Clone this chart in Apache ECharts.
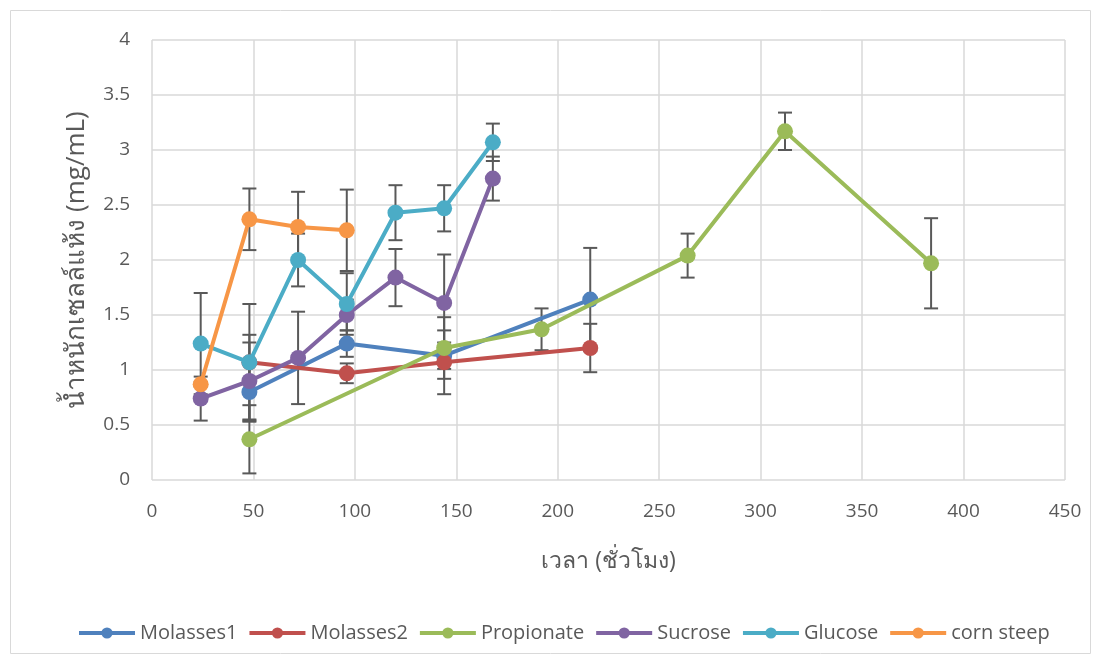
<!DOCTYPE html>
<html>
<head>
<meta charset="utf-8">
<script src="https://cdn.jsdelivr.net/npm/echarts@6/dist/echarts.min.js"></script>
<style>
html,body{margin:0;padding:0;background:#fff;}
#c{width:1101px;height:664px;}
</style>
</head>
<body>
<div id="c"></div>
<script>
var seriesNames = ['Molasses1', 'Molasses2', 'Propionate', 'Sucrose', 'Glucose', 'corn steep'];
var colors = ['#4F81BD', '#C0504D', '#9BBB59', '#8064A2', '#4BACC6', '#F79646'];

var molasses1Time = [48, 96, 144, 216];
var molasses1Value = [0.80, 1.24, 1.13, 1.64];
var molasses1Err = [0.27, 0.12, 0.12, 0.47];

var molasses2Time = [48, 96, 144, 216];
var molasses2Value = [1.07, 0.97, 1.07, 1.20];
var molasses2Err = [0.25, 0.09, 0.29, 0.22];

var propionateTime = [48, 144, 192, 264, 312, 384];
var propionateValue = [0.37, 1.20, 1.37, 2.04, 3.17, 1.97];
var propionateErr = [0.31, 0.28, 0.19, 0.20, 0.17, 0.41];

var sucroseTime = [24, 48, 72, 96, 120, 144, 168];
var sucroseValue = [0.74, 0.90, 1.11, 1.50, 1.84, 1.61, 2.74];
var sucroseErr = [0.20, 0.35, 0.42, 0.14, 0.26, 0.44, 0.20];

var glucoseTime = [24, 48, 72, 96, 120, 144, 168];
var glucoseValue = [1.24, 1.07, 2.00, 1.60, 2.43, 2.47, 3.07];
var glucoseErr = [0.46, 0.53, 0.24, 0.28, 0.25, 0.21, 0.17];

var cornTime = [24, 48, 72, 96];
var cornValue = [0.87, 2.37, 2.30, 2.27];
var cornErr = [0.02, 0.28, 0.32, 0.37];

var xTicks = [0, 50, 100, 150, 200, 250, 300, 350, 400, 450];
var yTicks = [0, 0.5, 1, 1.5, 2, 2.5, 3, 3.5, 4];

var allTimes = [molasses1Time, molasses2Time, propionateTime, sucroseTime, glucoseTime, cornTime];
var allValues = [molasses1Value, molasses2Value, propionateValue, sucroseValue, glucoseValue, cornValue];
var allErrs = [molasses1Err, molasses2Err, propionateErr, sucroseErr, glucoseErr, cornErr];

var FONT = '"Liberation Sans Narrow", "Open Sans", "Noto Sans", sans-serif';
var TXT = '#595959';

var series = [];
for (var i = 0; i < seriesNames.length; i++) {
  var d = allTimes[i].map(function (t, k) { return [t, allValues[i][k], allErrs[i][k]]; });
  series.push({
    type: 'custom',
    name: seriesNames[i] + '_err',
    z: 1,
    silent: true,
    encode: { x: 0, y: 1 },
    data: d,
    renderItem: function (params, api) {
      var x = api.value(0), v = api.value(1), e = api.value(2);
      var hi = api.coord([x, v + e]);
      var lo = api.coord([x, v - e]);
      var cw = 7;
      var st = { stroke: '#595959', lineWidth: 2 };
      return {
        type: 'group',
        children: [
          { type: 'line', shape: { x1: hi[0], y1: hi[1], x2: lo[0], y2: lo[1] }, style: st },
          { type: 'line', shape: { x1: hi[0] - cw, y1: hi[1], x2: hi[0] + cw, y2: hi[1] }, style: st },
          { type: 'line', shape: { x1: lo[0] - cw, y1: lo[1], x2: lo[0] + cw, y2: lo[1] }, style: st }
        ]
      };
    }
  });
}
for (var j = 0; j < seriesNames.length; j++) {
  series.push({
    type: 'line',
    name: seriesNames[j],
    z: 2 + j,
    data: allTimes[j].map(function (t, k) { return [t, allValues[j][k]]; }),
    symbol: 'circle',
    symbolSize: 16,
    showSymbol: true,
    lineStyle: { width: 4, color: colors[j] },
    itemStyle: { color: colors[j] },
    emphasis: { disabled: true },
    animation: false
  });
}

var chart = echarts.init(document.getElementById('c'), null, { renderer: 'canvas' });
chart.setOption({
  animation: false,
  color: colors,
  graphic: [{
    type: 'rect',
    shape: { x: 10.5, y: 10.5, width: 1080, height: 643 },
    style: { fill: 'none', stroke: '#D9D9D9', lineWidth: 1 },
    silent: true
  }],
  grid: { left: 152, right: 36, top: 40, bottom: 184 },
  xAxis: {
    type: 'value',
    min: 0, max: 450, interval: 50,
    name: 'เวลา (ชั่วโมง)',
    nameLocation: 'middle',
    nameGap: 70,
    nameTextStyle: { color: TXT, fontSize: 23, fontFamily: FONT },
    axisLine: { show: false },
    axisTick: { show: false },
    axisLabel: { color: TXT, fontSize: 19, fontFamily: FONT, margin: 22 },
    splitLine: { show: true, lineStyle: { color: '#D9D9D9', width: 1.5 } }
  },
  yAxis: {
    type: 'value',
    min: 0, max: 4, interval: 0.5,
    name: 'น้ำหนักเซลล์แห้ง (mg/mL)',
    nameLocation: 'middle',
    nameGap: 62,
    nameRotate: 90,
    nameTextStyle: { color: TXT, fontSize: 26, fontFamily: FONT },
    axisLine: { show: false },
    axisTick: { show: false },
    axisLabel: { color: TXT, fontSize: 19, fontFamily: FONT, margin: 22 },
    splitLine: { show: true, lineStyle: { color: '#D9D9D9', width: 1.5 } }
  },
  legend: {
    data: seriesNames,
    bottom: 16,
    left: 72,
    itemWidth: 56,
    itemHeight: 14,
    itemGap: 10,
    lineStyle: { width: 4 },
    textStyle: { color: TXT, fontSize: 20, fontFamily: FONT }
  },
  series: series
});
</script>
</body>
</html>
